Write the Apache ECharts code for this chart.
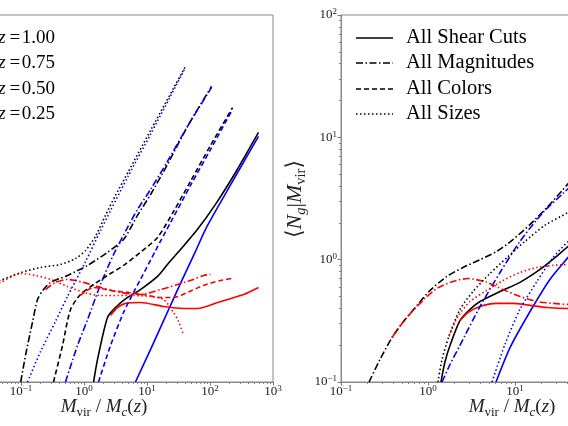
<!DOCTYPE html>
<html><head><meta charset="utf-8">
<script src="https://cdn.jsdelivr.net/npm/echarts@6/dist/echarts.min.js"></script>
<style>html,body{margin:0;padding:0;background:#fff;overflow:hidden}#c{width:568px;height:426px}</style>
</head><body><div id="c"></div>
<script>
// ---- tick decades (exponents) ----
const xDecadesLeft = [-2, -1, 0, 1, 2];
const xDecadesRight = [-1, 0, 1, 2];
const yDecades = [-1, 0, 1];
const zLabels = ['1.00', '0.75', '0.50', '0.25'];
const cutLabels = ['All Shear Cuts', 'All Magnitudes', 'All Colors', 'All Sizes'];

// ---- left panel: [M_vir/M_c, <N_g|M_vir>] ----
const leftShearTotal = [[1.42,0.1],[1.64,0.153],[2.36,0.337],[3.16,0.406],[4.9,0.491],[7.88,0.57],[14.7,0.73],[21.1,0.914],[34.0,1.21],[63.4,1.77],[122,2.83],[254,5.16],[589,10.96]];
const leftShearSat = [[6.56,0.1],[11.4,0.185],[19.7,0.344],[34.0,0.64],[58.9,1.17],[84.9,1.77],[147,2.94],[305,5.67],[589,10.17]];
const leftShearCen = [[2.64,0.35],[3.4,0.406],[4.56,0.439],[7.88,0.447],[18.3,0.414],[37.9,0.399],[63.4,0.399],[132,0.447],[340,0.519],[589,0.593]];

const leftMagsTotal = [[0.099,0.1],[0.118,0.165],[0.152,0.307],[0.183,0.473],[0.228,0.57],[0.294,0.652],[0.547,0.743],[1.14,0.898],[2.36,1.15],[4.24,1.46],[7.06,2.3],[11.4,3.41],[21.1,6.0],[44.0,12.3],[106,26.1]];
const leftMagsSat = [[0.508,0.1],[0.789,0.199],[1.14,0.324],[1.83,0.627],[2.94,1.1],[4.9,1.83],[7.06,2.57],[11.4,3.75],[21.1,6.35],[44.0,12.3],[106,25.6]];
const leftMagsCen = [[0.245,0.57],[0.353,0.652],[0.547,0.689],[0.982,0.652],[1.83,0.593],[3.79,0.54],[7.88,0.519],[16.4,0.57],[30.5,0.627],[54.7,0.689],[78.9,0.743],[102,0.757]];

const leftColorsTotal = [[0.328,0.1],[0.456,0.199],[0.611,0.392],[0.88,0.519],[1.42,0.627],[2.36,0.743],[4.24,0.898],[7.88,1.15],[14.7,1.52],[26.4,2.48],[49.0,4.36],[102,8.59],[228,17.5]];
const leftColorsSat = [[1.7,0.1],[2.64,0.199],[4.24,0.37],[6.11,0.54],[7.88,0.689],[13.7,1.19],[23.6,2.01],[49.0,4.04],[102,7.96],[228,16.9]];
const leftColorsCen = [[0.88,0.51],[1.42,0.593],[2.64,0.56],[4.9,0.54],[8.79,0.519],[16.4,0.491],[26.4,0.491],[44.0,0.54],[78.9,0.615],[147,0.676],[219,0.701]];

const leftSizesTotal = [[0.039,0.652],[0.047,0.676],[0.1,0.785],[0.204,0.863],[0.424,0.914],[0.733,1.02],[1.06,1.19],[1.52,1.55],[2.19,2.3],[3.16,3.35],[5.08,5.26],[11.4,11.4],[40.8,38.0]];
const leftSizesSat = [[0.127,0.1],[0.204,0.177],[0.353,0.313],[0.547,0.5],[1.06,0.966],[1.83,1.73],[2.64,2.52],[5.08,4.87],[11.4,10.6],[40.8,37.3]];
const leftSizesCen = [[0.039,0.627],[0.047,0.652],[0.1,0.771],[0.17,0.743],[0.294,0.689],[0.547,0.604],[0.982,0.54],[1.83,0.509],[3.4,0.509],[6.11,0.509],[11.4,0.5],[18.3,0.473],[26.4,0.37],[31.6,0.313],[37.9,0.244]];

// ---- right panel ----
const rightShearTotal = [[1.41,0.1],[1.57,0.147],[1.84,0.21],[2.33,0.318],[3.04,0.392],[3.96,0.455],[6.73,0.549],[11.4,0.652],[19.4,0.832],[28.8,1.04],[40.6,1.28],[55.9,1.52]];
const rightShearSat = [[6.05,0.1],[8.77,0.191],[14.9,0.377],[25.2,0.689],[40.6,1.04],[55.9,1.38]];
const rightShearCen = [[2.33,0.318],[2.88,0.37],[3.96,0.415],[6.21,0.439],[9.48,0.439],[14.9,0.423],[23.3,0.406],[40.6,0.399],[55.9,0.399]];

const rightMagsTotal = [[0.21,0.1],[0.281,0.153],[0.386,0.231],[0.545,0.324],[0.748,0.423],[1.055,0.56],[1.65,0.73],[2.53,0.863],[3.96,1.0],[6.21,1.17],[9.48,1.46],[14.9,1.94],[23.3,2.67],[35.7,3.75],[55.9,5.47]];
const rightMagsSat = [[1.45,0.1],[1.79,0.139],[2.33,0.199],[3.96,0.414],[6.73,0.785],[11.4,1.41],[21.0,2.43],[35.7,3.48],[55.9,4.7]];
const rightMagsCen = [[0.386,0.231],[0.545,0.324],[0.71,0.399],[0.925,0.482],[1.27,0.582],[1.94,0.664],[2.88,0.701],[4.77,0.652],[7.28,0.57],[11.4,0.5],[17.9,0.455],[27.3,0.439],[40.6,0.431],[55.9,0.431]];

const rightSizesTotal = [[1.3,0.1],[1.45,0.153],[1.74,0.236],[2.33,0.392],[3.29,0.549],[5.16,0.771],[8.09,1.04],[13.0,1.41],[22.1,1.91],[40.6,2.43],[55.9,2.83]];
const rightSizesSat = [[5.44,0.1],[7.67,0.203],[11.4,0.392],[17.9,0.664],[27.3,1.04],[40.6,1.41],[55.9,1.83]];
const rightSizesCen = [[1.74,0.236],[2.21,0.344],[3.04,0.455],[4.52,0.549],[7.28,0.676],[11.4,0.785],[17.9,0.863],[27.3,0.898],[40.6,0.914],[55.9,0.931]];

const FONT = "'Liberation Serif','DejaVu Serif',serif";
const DASH = { solid: 'solid', dashed: [5, 3], dotted: [1.5, 2.5], dashdot: [7, 2.5, 1.5, 2.5] };
const BLACK = '#000000', BLUE = '#0000ff', RED = '#ff0000';

function minorVals(decades) {
  const out = [];
  decades.forEach(d => { for (let k = 2; k <= 9; k++) out.push(d + Math.log10(k)); });
  return out;
}
function expLabel(v) {
  const e = Math.round(Math.log10(v));
  return '{b|10}{s|' + (e < 0 ? '\u2212' + (-e) : e) + '}';
}
const tickRich = {
  b: { fontFamily: FONT, fontSize: 13, lineHeight: 15, color: '#222' },
  s: { fontFamily: FONT, fontSize: 9, lineHeight: 9, verticalAlign: 'top', color: '#222' }
};
function logAxis(grid, min, max, isY) {
  return {
    type: 'log', logBase: 10, gridIndex: grid, min: min, max: max,
    position: isY ? 'left' : 'bottom',
    axisLine: { show: true, onZero: false, lineStyle: { color: '#888', width: 1 } },
    axisTick: { show: true, length: 3.5, lineStyle: { color: '#777' } },
    axisLabel: { formatter: expLabel, rich: tickRich, margin: isY ? 4 : 2, showMinLabel: true, showMaxLabel: true },
    splitLine: { show: false }
  };
}
function minorAxis(grid, min, max, decades, isY) {
  return {
    type: 'value', gridIndex: grid, min: min, max: max, position: isY ? 'left' : 'bottom',
    axisLine: { show: false, onZero: false }, axisLabel: { show: false }, splitLine: { show: false },
    axisTick: { show: true, length: 2, customValues: minorVals(decades), lineStyle: { color: '#888' } }
  };
}
function ser(data, gi, color, style) {
  return {
    type: 'line', data: data, xAxisIndex: gi, yAxisIndex: gi, symbol: 'none', showSymbol: false,
    smooth: 0.25, animation: false, silent: true, clip: true,
    lineStyle: { color: color, width: 1.6, type: DASH[style], cap: 'butt' }
  };
}

const italic = { fontFamily: FONT, fontStyle: 'italic', fontSize: 19 };
function titleRich(big, small) {
  return {
    i: { fontFamily: FONT, fontStyle: 'italic', fontSize: big, lineHeight: big + 5 },
    n: { fontFamily: FONT, fontSize: big, lineHeight: big + 5 },
    s: { fontFamily: FONT, fontSize: small, lineHeight: small, verticalAlign: 'bottom' },
    si: { fontFamily: FONT, fontStyle: 'italic', fontSize: small, lineHeight: small, verticalAlign: 'bottom' }
  };
}
const xTitle = '{i|M}{s|vir}{n| / }{i|M}{si|c}{n|(}{i|z}{n|)}';
const yTitle = '{n|\u27E8}{i|N}{si|g}{n||}{i|M}{s|vir}{n|\u27E9}';

const graphics = [];
zLabels.forEach((t, k) => {
  graphics.push({ type: 'text', x: 55, y: [38, 63, 89, 114][k], silent: true,
    style: { text: '{i|z}{n|\u2009=\u200A' + t + '}', rich: { i: italic, n: { fontFamily: FONT, fontSize: 19 } },
      fill: '#000', align: 'right', verticalAlign: 'middle' } });
});
const legStyles = ['solid', 'dashdot', 'dashed', 'dotted'];
cutLabels.forEach((t, k) => {
  const y = [38, 63, 89, 114][k];
  graphics.push({ type: 'line', silent: true, shape: { x1: 356, y1: y, x2: 393, y2: y },
    style: { stroke: '#000', lineWidth: 1.6, lineDash: legStyles[k] === 'solid' ? null : DASH[legStyles[k]] } });
  graphics.push({ type: 'text', x: 406, y: y, silent: true,
    style: { text: t, fontFamily: FONT, fontSize: 20.5, fill: '#000', align: 'left', verticalAlign: 'middle' } });
});
graphics.push({ type: 'text', x: 104, y: 407, silent: true,
  style: { text: xTitle, rich: titleRich(19, 13), fill: '#222', align: 'center', verticalAlign: 'middle' } });
graphics.push({ type: 'text', x: 512, y: 407, silent: true,
  style: { text: xTitle, rich: titleRich(19, 13), fill: '#222', align: 'center', verticalAlign: 'middle' } });
graphics.push({ type: 'text', x: 295, y: 199, rotation: Math.PI / 2, silent: true,
  style: { text: yTitle, rich: titleRich(22, 14.5), fill: '#222', align: 'center', verticalAlign: 'middle' } });

const chart = echarts.init(document.getElementById('c'), null, { renderer: 'canvas' });
chart.setOption({
  animation: false,
  backgroundColor: '#fff',
  grid: [
    { left: -42, top: 15, width: 315, height: 367, show: true, borderColor: '#888', borderWidth: 1, backgroundColor: 'transparent', containLabel: false, outerBoundsMode: 'none' },
    { left: 341, top: 15, width: 348, height: 367, show: true, borderColor: '#888', borderWidth: 1, backgroundColor: 'transparent', containLabel: false, outerBoundsMode: 'none' }
  ],
  xAxis: [
    logAxis(0, 0.01, 1000, false),
    logAxis(1, 0.1, 1000, false),
    minorAxis(0, -2, 3, xDecadesLeft, false),
    minorAxis(1, -1, 3, xDecadesRight, false)
  ],
  yAxis: [
    logAxis(0, 0.1, 100, true),
    logAxis(1, 0.1, 100, true),
    minorAxis(1, -1, 2, yDecades, true)
  ],
  series: [
    ser(leftShearTotal, 0, BLACK, 'solid'), ser(leftShearSat, 0, BLUE, 'solid'), ser(leftShearCen, 0, RED, 'solid'),
    ser(leftMagsTotal, 0, BLACK, 'dashdot'), ser(leftMagsSat, 0, BLUE, 'dashdot'), ser(leftMagsCen, 0, RED, 'dashdot'),
    ser(leftColorsTotal, 0, BLACK, 'dashed'), ser(leftColorsSat, 0, BLUE, 'dashed'), ser(leftColorsCen, 0, RED, 'dashed'),
    ser(leftSizesTotal, 0, BLACK, 'dotted'), ser(leftSizesSat, 0, BLUE, 'dotted'), ser(leftSizesCen, 0, RED, 'dotted'),
    ser(rightShearTotal, 1, BLACK, 'solid'), ser(rightShearSat, 1, BLUE, 'solid'), ser(rightShearCen, 1, RED, 'solid'),
    ser(rightMagsTotal, 1, BLACK, 'dashdot'), ser(rightMagsSat, 1, BLUE, 'dashdot'), ser(rightMagsCen, 1, RED, 'dashdot'),
    ser(rightSizesTotal, 1, BLACK, 'dotted'), ser(rightSizesSat, 1, BLUE, 'dotted'), ser(rightSizesCen, 1, RED, 'dotted')
  ],
  graphic: graphics
});
</script>
</body></html>
